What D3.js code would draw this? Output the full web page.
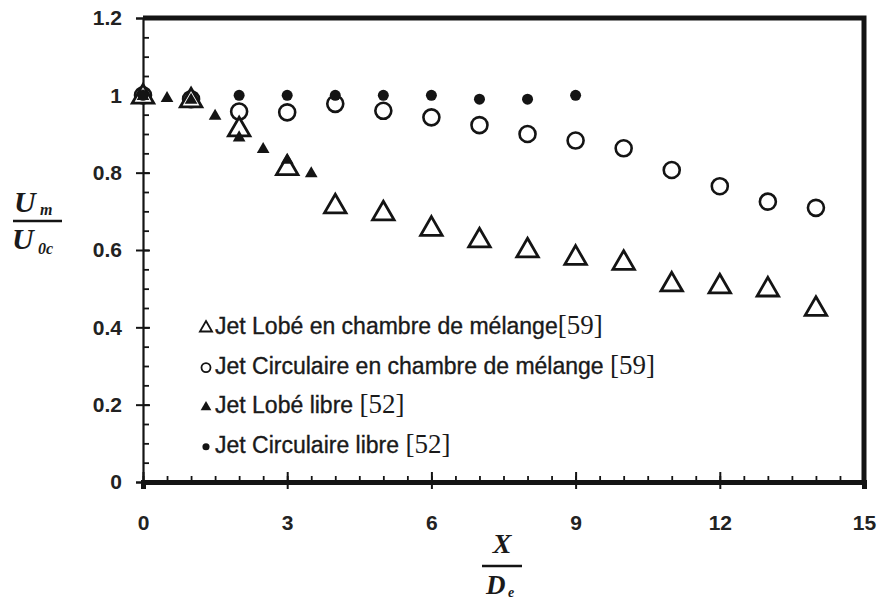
<!DOCTYPE html>
<html>
<head>
<meta charset="utf-8">
<script src="https://cdn.jsdelivr.net/npm/d3@7"></script>
<style>
  body { margin: 0; background: #fff; }
  svg { display: block; }
  .tick text { font-family: "Liberation Sans", Arial, sans-serif; font-weight: bold; font-size: 21px; fill: #222; }
  .legend text { font-family: "Liberation Sans", Arial, sans-serif; font-size: 23px; fill: #1a1a1a; stroke: #1a1a1a; stroke-width: 0.35px; }
  .ref { font-family: "Liberation Serif", "Times New Roman", serif; font-size: 27px; stroke-width: 0px; }
  .lab { font-family: "Liberation Serif", "Times New Roman", serif; font-style: italic; font-weight: bold; fill: #1a1a1a; }
</style>
</head>
<body>
<div id="vis-container"></div>
<script>
//width and height
var w = 880;
var h = 603;

// data
var xLobeCh = [0, 1, 2, 3, 4, 5, 6, 7, 8, 9, 10, 11, 12, 13, 14];
var yLobeCh = [1.0, 0.99, 0.915, 0.815, 0.716, 0.698, 0.658, 0.628, 0.602, 0.583, 0.570, 0.514, 0.509, 0.501, 0.451];

var xCircCh = [0, 1, 2, 3, 4, 5, 6, 7, 8, 9, 10, 11, 12, 13, 14];
var yCircCh = [1.0, 0.99, 0.958, 0.956, 0.978, 0.96, 0.943, 0.923, 0.90, 0.883, 0.863, 0.807, 0.765, 0.725, 0.709];

var xLobeFree = [0, 0.5, 1, 1.5, 2, 2.5, 3, 3.5];
var yLobeFree = [1.0, 0.995, 0.99, 0.949, 0.893, 0.863, 0.835, 0.80];

var xCircFree = [0, 2, 3, 4, 5, 6, 7, 8, 9];
var yCircFree = [1.0, 1.0, 1.0, 1.0, 1.0, 1.0, 0.99, 0.99, 1.0];

var xTicks = [0, 3, 6, 9, 12, 15];
var yTicks = [0, 0.2, 0.4, 0.6, 0.8, 1, 1.2];
var yTickLabels = ["0", "0.2", "0.4", "0.6", "0.8", "1", "1.2"];

var legendLabels = [
  ["Jet Lobé en chambre de mélange", "[59]"],
  ["Jet Circulaire en chambre de mélange ", "[59]"],
  ["Jet Lobé libre ", "[52]"],
  ["Jet Circulaire libre ", "[52]"]
];

var ink = "#141414";

//scale function
var xScale = d3.scaleLinear().domain([0, 15]).range([143, 864]);
var yScale = d3.scaleLinear().domain([0, 1.2]).range([482, 18]);

var svg = d3.select("#vis-container")
  .append("svg")
  .attr("width", w)
  .attr("height", h);

// minor ticks y (inside, to the right)
svg.append("g")
  .attr("transform", "translate(" + xScale(0) + ",0)")
  .call(d3.axisRight(yScale).tickValues(d3.range(0, 1.2001, 0.05)).tickSize(6).tickFormat(""))
  .call(function (g) { g.select(".domain").remove(); })
  .selectAll("line").attr("stroke", ink).attr("stroke-width", 1.8);

// y axis
var yAxis = svg.append("g")
  .attr("transform", "translate(" + xScale(0) + ",0)")
  .call(d3.axisLeft(yScale).tickValues(yTicks).tickSize(7).tickPadding(14)
    .tickFormat(function (d, i) { return yTickLabels[i]; }));
yAxis.select(".domain").attr("stroke", ink).attr("stroke-width", 2.2);
yAxis.selectAll(".tick line").attr("x1", 7).attr("x2", -7).attr("stroke", ink).attr("stroke-width", 2);

// minor ticks x (inside, upward)
svg.append("g")
  .attr("transform", "translate(0," + yScale(0) + ")")
  .call(d3.axisTop(xScale).tickValues(d3.range(0, 15.001, 0.5)).tickSize(6).tickFormat(""))
  .call(function (g) { g.select(".domain").remove(); })
  .selectAll("line").attr("stroke", ink).attr("stroke-width", 1.8);

// x axis
var xAxis = svg.append("g")
  .attr("transform", "translate(0," + yScale(0) + ")")
  .call(d3.axisBottom(xScale).tickValues(xTicks).tickSize(7).tickPadding(26));
xAxis.select(".domain").attr("stroke", ink).attr("stroke-width", 5);
xAxis.selectAll(".tick line").attr("y1", -10).attr("y2", 7).attr("stroke", ink).attr("stroke-width", 2);

// frame: top and right
svg.append("path")
  .attr("d", "M" + xScale(0) + "," + yScale(1.2) + "H" + xScale(15) + "V" + yScale(0))
  .attr("fill", "none")
  .attr("stroke", ink)
  .attr("stroke-width", 5);

// symbols
var triOpen = d3.symbol().type(d3.symbolTriangle).size(200);
var triSmall = d3.symbol().type(d3.symbolTriangle).size(70);

function pts(xs, ys) { return xs.map(function (x, i) { return [x, ys[i]]; }); }

// open circles
svg.selectAll(".cc")
  .data(pts(xCircCh, yCircCh))
  .enter().append("circle")
  .attr("class", "cc")
  .attr("cx", function (d) { return xScale(d[0]); })
  .attr("cy", function (d) { return yScale(d[1]); })
  .attr("r", 8)
  .attr("fill", "#fff")
  .attr("stroke", ink)
  .attr("stroke-width", 2.6);

// open triangles (bbox centred on the point)
svg.selectAll(".lc")
  .data(pts(xLobeCh, yLobeCh))
  .enter().append("path")
  .attr("class", "lc")
  .attr("d", triOpen)
  .attr("transform", function (d) { return "translate(" + xScale(d[0]) + "," + (yScale(d[1]) + 1.5) + ")"; })
  .attr("fill", "#fff")
  .attr("stroke", ink)
  .attr("stroke-width", 2.8)
  .attr("stroke-linejoin", "miter");

// filled triangles
svg.selectAll(".lf")
  .data(pts(xLobeFree, yLobeFree))
  .enter().append("path")
  .attr("class", "lf")
  .attr("d", triSmall)
  .attr("transform", function (d) { return "translate(" + xScale(d[0]) + "," + (yScale(d[1]) + 1) + ")"; })
  .attr("fill", ink);

// filled circles
svg.selectAll(".cf")
  .data(pts(xCircFree, yCircFree))
  .enter().append("circle")
  .attr("class", "cf")
  .attr("cx", function (d) { return xScale(d[0]); })
  .attr("cy", function (d) { return yScale(d[1]); })
  .attr("r", 5.5)
  .attr("fill", ink);

// draw legend
var legend = svg.selectAll(".legend")
  .data(legendLabels)
  .enter().append("g")
  .attr("class", "legend")
  .attr("transform", function (d, i) { return "translate(206," + (328 + i * 39.6) + ")"; });

legend.append("path")
  .attr("d", function (d, i) {
    if (i == 0) return d3.symbol().type(d3.symbolTriangle).size(64)();
    if (i == 1) return d3.symbol().type(d3.symbolCircle).size(64)();
    if (i == 2) return d3.symbol().type(d3.symbolTriangle).size(50)();
    return d3.symbol().type(d3.symbolCircle).size(40)();
  })
  .attr("fill", function (d, i) { return i < 2 ? "#fff" : ink; })
  .attr("stroke", function (d, i) { return i < 2 ? ink : "none"; })
  .attr("stroke-width", 1.8);

var lt = legend.append("text")
  .attr("x", 9)
  .attr("y", 6);
lt.append("tspan").text(function (d) { return d[0]; });
lt.append("tspan").attr("class", "ref").text(function (d) { return d[1]; });

// y label U_m / U_0c
svg.append("text").attr("class", "lab").attr("x", 14).attr("y", 212).style("font-size", "30px").text("U");
svg.append("text").attr("class", "lab").attr("x", 40).attr("y", 215).style("font-size", "16px").text("m");
svg.append("line").attr("x1", 13).attr("x2", 62).attr("y1", 221).attr("y2", 221).attr("stroke", ink).attr("stroke-width", 2.5);
svg.append("text").attr("class", "lab").attr("x", 12).attr("y", 249).style("font-size", "30px").text("U");
svg.append("text").attr("class", "lab").attr("x", 38).attr("y", 254).style("font-size", "16px").text("0c");

// x label X / D_e
svg.append("text").attr("class", "lab").attr("x", 502).attr("y", 553).attr("text-anchor", "middle").style("font-size", "28px").text("X");
svg.append("line").attr("x1", 482).attr("x2", 522).attr("y1", 566).attr("y2", 566).attr("stroke", ink).attr("stroke-width", 2.5);
svg.append("text").attr("class", "lab").attr("x", 486).attr("y", 594).style("font-size", "27px").text("D");
svg.append("text").attr("class", "lab").attr("x", 508).attr("y", 597).style("font-size", "14px").text("e");
</script>
</body>
</html>
